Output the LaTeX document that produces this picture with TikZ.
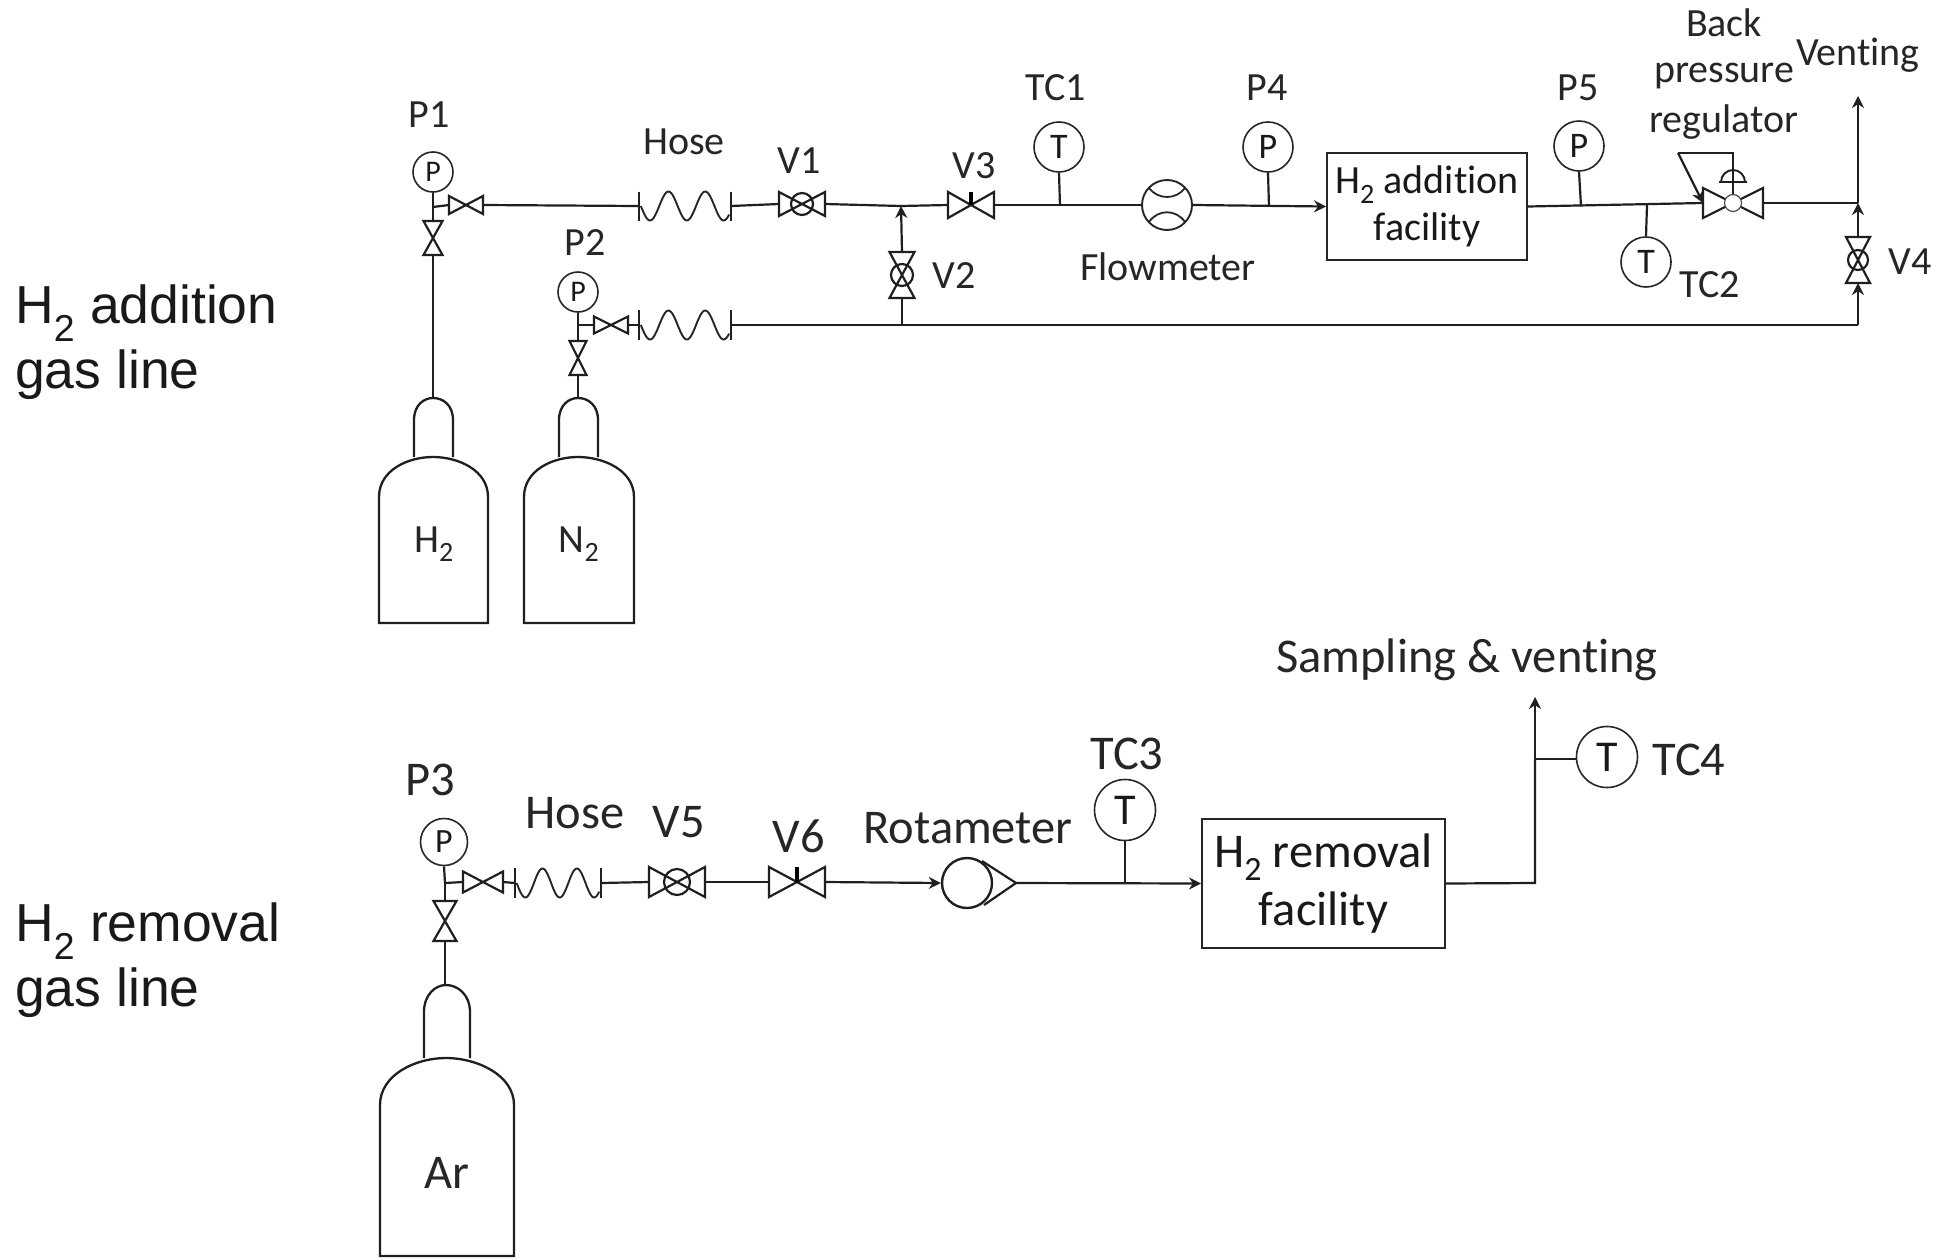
\documentclass[tikz,border=0pt]{standalone}
\usepackage{fontspec}
\setmainfont[Ligatures=NoCommon]{Carlito}
\newfontfamily\arialfam{Liberation Sans}
\usetikzlibrary{arrows.meta}
\tikzset{
  x=1pt,y=-1pt,
  pipe/.style={draw=black!88,line width=2.2pt},
  flow/.style={pipe,-{Stealth[length=12pt,width=12pt]}},
  lab/.style={inner sep=0pt,font=\fontsize{40}{40}\selectfont,text=black!85},
  labb/.style={inner sep=0pt,font=\fontsize{48.5}{48.5}\selectfont,text=black!85},
  side/.style={inner sep=0pt,anchor=west,font=\arialfam\fontsize{53.5}{53.5}\selectfont,text=black!90},
  gauge/.style={circle,draw=black!85,line width=1.6pt,inner sep=0pt,minimum size=#1,fill=white,text=black!90},
  facility/.style={draw=black!85,line width=1.8pt,inner sep=0pt,align=center,text=black!90},
  pics/bowtie/.style n args={2}{code={
    \draw[pipe,line join=miter,fill=white] (-#1,-#2) -- (#1,#2) -- (#1,-#2) -- (-#1,#2) -- cycle;
    \coordinate (-w) at (-#1,0); \coordinate (-e) at (#1,0); \coordinate (-c) at (0,0);}},
  pics/ballvalve/.style n args={3}{code={
    \draw[pipe,line join=miter,fill=white] (-#1,-#2) -- (#1,#2) -- (#1,-#2) -- (-#1,#2) -- cycle;
    \draw[pipe] (0,0) circle[radius=#3];
    \coordinate (-w) at (-#1,0); \coordinate (-e) at (#1,0);}},
  pics/stemvalve/.style n args={2}{code={
    \draw[pipe,line join=miter,fill=white] (-#1,-#2) -- (#1,#2) -- (#1,-#2) -- (-#1,#2) -- cycle;
    \draw[draw=black,line width=3.5pt] (0,0) -- (0,-#2);
    \coordinate (-w) at (-#1,0); \coordinate (-e) at (#1,0);}},
  pics/hoseline/.style n args={3}{code={
    \draw[pipe] (-#1,-#2) -- (-#1,#2);
    \draw[pipe] (#1,-#2) -- (#1,#2);
    \draw[draw=black!85,line width=1.9pt] plot[domain=0.02:0.98,samples=70,smooth] ({(\x-0.5)*2*#1},{-#3*sin(900*(\x-0.22))});
    \coordinate (-w) at (-#1,0); \coordinate (-e) at (#1,0);}},
}
\begin{document}
\begin{tikzpicture}
\useasboundingbox (0,0) rectangle (1948,1258);
\fill[white] (0,0) rectangle (1948,1258);

% side labels
\node[side] (addA) at (15,313) {H\textsubscript{2} addition};
\node[side] (addB) at (15,375) {gas line};
\node[side] (remA) at (15,931) {H\textsubscript{2} removal};
\node[side] (remB) at (15,993) {gas line};

% --- cylinders
\draw[pipe,line width=2.3pt] (379,623) -- (379,497) .. controls (379,470) and (408,457) .. (433,457) .. controls (458,457) and (488,470) .. (488,497) -- (488,623) -- cycle;
\draw[pipe,line width=2.3pt] (414,457) -- (414,420) .. controls (414,405) and (424,398) .. (433,398) .. controls (443,398) and (453,405) .. (453,420) -- (453,457);
\draw[pipe,line width=2.3pt] (524,623) -- (524,497) .. controls (524,470) and (553,457) .. (578,457) .. controls (603,457) and (634,470) .. (634,497) -- (634,623) -- cycle;
\draw[pipe,line width=2.3pt] (559,457) -- (559,420) .. controls (559,405) and (569,398) .. (578,398) .. controls (588,398) and (598,405) .. (598,420) -- (598,457);
\draw[pipe,line width=2.3pt] (380,1256) -- (380,1105) .. controls (380,1075) and (415,1058) .. (446,1058) .. controls (477,1058) and (514,1075) .. (514,1105) -- (514,1256) -- cycle;
\draw[pipe,line width=2.3pt] (424,1058) -- (424,1012) .. controls (424,995) and (435,985) .. (446,985) .. controls (458,985) and (470,995) .. (470,1012) -- (470,1058);
\coordinate (h2top) at (433,398);
\coordinate (n2top) at (578,398);
\coordinate (artop) at (445,985);
\node[lab] (h2lab) at (434,544) {H\textsubscript{2}};
\node[lab] (n2lab) at (579,544) {N\textsubscript{2}};
\node[labb] (arlab) at (447,1173) {Ar};

% --- upper line components
\coordinate (jp1) at (433,207);
\node[gauge=40pt,font=\fontsize{30}{30}\selectfont] (p1) at (433,172) {P};
\pic (vp1h) at (466,205) {bowtie={17}{9}};
\pic[rotate=90] (vp1v) at (433,238) {bowtie={17}{9.5}};
\pic (hose1) at (685,206) {hoseline={46}{14.5}{14.5}};
\pic (v1) at (802,204) {ballvalve={23}{12}{11}};
\coordinate (j12) at (901,206);
\pic[rotate=90] (v2) at (902,275) {ballvalve={23}{12.5}{11}};
\pic (v3) at (971,205) {stemvalve={23}{13}};
\node[gauge=50pt,font=\fontsize{36}{36}\selectfont] (tc1) at (1059,147) {T};
\coordinate (jt1) at (1060,206);
\node[circle,draw=black!85,line width=1.9pt,minimum size=50pt,inner sep=0pt] (fm) at (1167,205) {};
\draw[draw=black!85,line width=1.8pt] (1149,188) .. controls (1158,200) and (1176,200) .. (1185,188);
\draw[draw=black!85,line width=1.8pt] (1149,222) .. controls (1158,209) and (1176,209) .. (1185,222);
\node[gauge=50pt,font=\fontsize{36}{36}\selectfont] (p4) at (1268,147) {P};
\coordinate (jp4) at (1269,207);
\node[facility,minimum width=200pt,minimum height=107pt,font=\fontsize{40}{47}\selectfont] (addfac) at (1427,206.5) {H\textsubscript{2} addition\\facility};
\node[gauge=50pt,font=\fontsize{36}{36}\selectfont] (p5) at (1579,146) {P};
\coordinate (jp5) at (1581,206);
\coordinate (jt2) at (1647,205);
\node[gauge=50pt,font=\fontsize{36}{36}\selectfont] (tc2) at (1646,262) {T};
\pic (bpr) at (1733,203) {bowtie={30}{15}};
\node[circle,draw=black!70,line width=1.2pt,fill=white,minimum size=17pt,inner sep=0pt] (bprc) at (1733,203) {};
\coordinate (dome) at (1733,182);
\draw[pipe,line width=1.9pt] (1719,182) -- (1747,182) (1721,182) arc[start angle=180,end angle=360,radius=12];
\coordinate (sensetop) at (1733,153);
\coordinate (senseleft) at (1678,153);
\coordinate (jv) at (1858,203);
\coordinate (vent) at (1858,96);
\pic[rotate=90] (v4) at (1858,260) {ballvalve={23}{12}{10}};
\coordinate (jlow4) at (1858,325);
\coordinate (jlow2) at (902,325);
% P2 branch
\node[gauge=40pt,font=\fontsize{30}{30}\selectfont] (p2) at (578,292) {P};
\coordinate (jp2) at (578,325);
\pic (vp2h) at (611,325) {bowtie={17}{8.5}};
\pic[rotate=90] (vp2v) at (578,358) {bowtie={17}{8.5}};
\pic (hose2) at (685,325) {hoseline={46}{15}{14.5}};

% connectors, upper
\draw[pipe] (p1.south) -- (jp1);
\draw[pipe] (jp1) -- (vp1h-w);
\draw[pipe] (jp1) -- (vp1v-e);
\draw[pipe] (vp1v-w) -- (h2top);
\draw[pipe] (vp1h-e) -- (hose1-w);
\draw[pipe] (hose1-e) -- (v1-w);
\draw[pipe] (v1-e) -- (j12) -- (v3-w);
\draw[flow] (v2-e) -- (j12);
\draw[pipe] (jlow2) -- (v2-w);
\draw[pipe] (v3-e) -- (fm.west);
\draw[pipe] (tc1.south) -- (jt1);
\draw[flow] (fm.east) -- (addfac.west);
\draw[pipe] (p4.south) -- (jp4);
\draw[pipe] (addfac.east) -- (bpr-w);
\draw[pipe] (p5.south) -- (jp5);
\draw[pipe] (jt2) -- (tc2.north);
\draw[pipe] (bpr-e) -- (jv);
\draw[flow] (jv) -- (vent);
\draw[flow] (v4-e) -- (jv);
\draw[flow] (jlow4) -- (v4-w);
\draw[pipe] (bprc.north) -- (dome);
\draw[pipe,line join=miter] (dome) -- (sensetop) -- (senseleft);
\draw[flow] (senseleft) -- (bpr-w);
\draw[pipe] (p2.south) -- (jp2);
\draw[pipe] (jp2) -- (vp2h-w);
\draw[pipe] (jp2) -- (vp2v-e);
\draw[pipe] (vp2v-w) -- (n2top);
\draw[pipe] (vp2h-e) -- (hose2-w);
\draw[pipe] (hose2-e) -- (jlow2) -- (jlow4);

% labels, upper
\node[lab] (lp1) at (429,115) {P1};
\node[lab] (lp2) at (585,243) {P2};
\node[lab] (lhose1) at (684,142) {Hose};
\node[lab] (lv1) at (799,161) {V1};
\node[lab] (lv2) at (954,276) {V2};
\node[lab] (lv3) at (974,166) {V3};
\node[lab] (ltc1) at (1056,88) {TC1};
\node[lab] (lp4) at (1267,88) {P4};
\node[lab] (lfm) at (1168,267) {Flowmeter};
\node[lab] (lp5) at (1578,88) {P5};
\node[lab] (lback) at (1724,23) {Back};
\node[lab] (lpress) at (1724,76) {pressure};
\node[lab] (lreg) at (1724,122) {regulator};
\node[lab] (lvent) at (1858,55) {Venting};
\node[lab] (ltc2) at (1710,285) {TC2};
\node[lab] (lv4) at (1910,262) {V4};

% --- lower line
\node[gauge=47pt,font=\fontsize{34}{34}\selectfont] (p3) at (444,842) {P};
\coordinate (jp3) at (445,883);
\pic (vp3h) at (483,882) {bowtie={20}{10.5}};
\pic[rotate=90] (vp3v) at (445,921) {bowtie={20}{11.5}};
\pic (hose3) at (558,883) {hoseline={43}{15}{14.5}};
\pic (v5) at (677,882) {ballvalve={28}{15}{13}};
\pic (v6) at (797,882) {stemvalve={28}{15}};
\node[circle,draw=black!88,line width=2.4pt,minimum size=50pt,inner sep=0pt] (rot) at (967,883) {};
\coordinate (rotT) at (982,861);
\coordinate (rotB) at (984,905);
\coordinate (rotE) at (1016,883);
\draw[pipe,line join=miter] (rotT) -- (rotE) -- (rotB);
\node[gauge=61pt,font=\fontsize{44}{44}\selectfont] (tc3) at (1125,810) {T};
\coordinate (jt3) at (1125,883);
\node[facility,line width=2pt,minimum width=243pt,minimum height=129pt,font=\fontsize{48.5}{58}\selectfont] (remfac) at (1323.5,883.5) {H\textsubscript{2} removal\\facility};
\coordinate (elbow) at (1535,883);
\coordinate (jt4) at (1535,759);
\coordinate (samp) at (1535,697);
\node[gauge=61pt,font=\fontsize{44}{44}\selectfont] (tc4) at (1607,757) {T};

\draw[pipe] (p3.south) -- (jp3);
\draw[pipe] (jp3) -- (vp3h-w);
\draw[pipe] (jp3) -- (vp3v-e);
\draw[pipe] (vp3v-w) -- (artop);
\draw[pipe] (vp3h-e) -- (hose3-w);
\draw[pipe] (hose3-e) -- (v5-w);
\draw[pipe] (v5-e) -- (v6-w);
\draw[flow] (v6-e) -- (rot.west);
\draw[flow] (rotE) -- (remfac.west);
\draw[pipe] (tc3.south) -- (jt3);
\draw[pipe] (remfac.east) -- (elbow) -- (jt4);
\draw[flow] (jt4) -- (samp);
\draw[pipe] (jt4) -- (tc4.west |- jt4);

\node[labb] (lp3) at (430,780) {P3};
\node[labb] (lhose3) at (575,813) {Hose};
\node[labb] (lv5) at (679,822) {V5};
\node[labb] (lv6) at (799,836) {V6};
\node[labb] (lrot) at (968,828) {Rotameter};
\node[labb] (ltc3) at (1127,754) {TC3};
\node[labb] (lsamp) at (1467,660) {Sampling \& venting};
\node[labb] (ltc4) at (1689,760) {TC4};
\end{tikzpicture}
\end{document}
